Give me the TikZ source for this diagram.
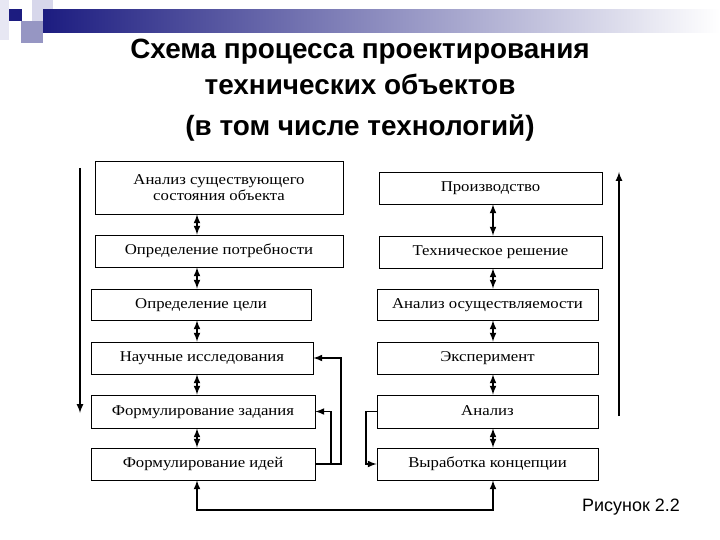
\documentclass[tikz,border=0pt]{standalone}
\usepackage{fontspec}
\setmainfont{Liberation Serif}
\newfontfamily\headfont{Liberation Sans}
\newfontfamily\stageserif{Liberation Serif}[FakeStretch=1.12]
\usetikzlibrary{shapes,arrows}
\definecolor{hdrblue}{RGB}{28,28,128}
\definecolor{hdrmid}{RGB}{150,150,195}
\definecolor{hdrlight}{RGB}{215,215,235}
\newcommand{\stagefont}{\stageserif\fontsize{15}{16}\selectfont}
\tikzset{
  stagebox/.style = {draw, line width=0.8pt, inner sep=0pt, align=center, font=\stagefont,
                     text height=10bp, text depth=3bp},
  twoway/.style = {latex-latex, line width=2pt},
  oneway/.style = {-latex, line width=2pt},
}

\begin{document}
\begin{tikzpicture}[x=1bp,y=-1bp]
	\useasboundingbox (0,0) rectangle (720,540);
	% slide decoration
	\fill[hdrlight!60] (0,0) rectangle (9,40);
	\fill[hdrlight] (32,0) rectangle (53,22);
	\fill[hdrmid] (21,21) rectangle (43,43);
	\shade[left color=hdrblue, middle color=hdrmid, right color=white] (43,10) rectangle (720,33);
	\fill[hdrblue] (9,9) rectangle (22,21);
	% title
	\node[font=\headfont\bfseries\fontsize{28}{32}\selectfont] (head1) at (360,52) {Схема процесса проектирования};
	\node[font=\headfont\bfseries\fontsize{28}{32}\selectfont] (head2) at (360,84) {технических объектов};
	\node[font=\headfont\bfseries\fontsize{28}{32}\selectfont] (head3) at (360,128) {(в том числе технологий)};
	\node[font=\headfont\fontsize{18}{20}\selectfont] (fig) at (631,507) {Рисунок 2.2};
	% left column
	\node[stagebox, text height=, text depth=, minimum width=248bp, minimum height=53bp] (L1) at (219,187.5) {Анализ существующего\\состояния объекта};
	\node[stagebox, minimum width=248bp, minimum height=32bp] (L2) at (219,251) {Определение потребности};
	\node[stagebox, minimum width=220bp, minimum height=31bp] (L3) at (201,304.5) {Определение цели};
	\node[stagebox, minimum width=222bp, minimum height=32bp] (L4) at (202,358) {Научные исследования};
	\node[stagebox, minimum width=224bp, minimum height=33bp] (L5) at (203,411.5) {Формулирование задания};
	\node[stagebox, minimum width=224bp, minimum height=32bp] (L6) at (203,464) {Формулирование идей};
	% right column
	\node[stagebox, minimum width=223bp, minimum height=32bp] (R1) at (490.5,188) {Производство};
	\node[stagebox, minimum width=223bp, minimum height=32bp] (R2) at (490.5,252) {Техническое решение};
	\node[stagebox, minimum width=221bp, minimum height=31bp] (R3) at (487.5,304.5) {Анализ осуществляемости};
	\node[stagebox, minimum width=221bp, minimum height=32bp] (R4) at (487.5,358) {Эксперимент};
	\node[stagebox, minimum width=221bp, minimum height=33bp] (R5) at (487.5,411.5) {Анализ};
	\node[stagebox, minimum width=221bp, minimum height=32bp] (R6) at (487.5,464) {Выработка концепции};
	\coordinate (lcol) at (197,0);
	\coordinate (rcol) at (493,0);
	% links inside the columns
	\draw[twoway] (L1.south -| lcol) -- (L2.north -| lcol);
	\draw[twoway] (L2.south -| lcol) -- (L3.north -| lcol);
	\draw[twoway] (L3.south -| lcol) -- (L4.north -| lcol);
	\draw[twoway] (L4.south -| lcol) -- (L5.north -| lcol);
	\draw[twoway] (L5.south -| lcol) -- (L6.north -| lcol);
	\draw[twoway] (R1.south -| rcol) -- (R2.north -| rcol);
	\draw[twoway] (R2.south -| rcol) -- (R3.north -| rcol);
	\draw[twoway] (R3.south -| rcol) -- (R4.north -| rcol);
	\draw[twoway] (R4.south -| rcol) -- (R5.north -| rcol);
	\draw[twoway] (R5.south -| rcol) -- (R6.north -| rcol);
	% long arrows at the sides
	\coordinate (ltop) at (80,168);
	\coordinate (lbot) at (80,413);
	\coordinate (rbot) at (619,416);
	\coordinate (rtop) at (619,172);
	\draw[oneway] (ltop) -- (lbot);
	\draw[oneway] (rbot) -- (rtop);
	% feedback loops
	\draw[oneway] (L6.east) -- ++(26,0) |- (L4.east);
	\draw[oneway] (L6.east) -- ++(16,0) |- (L5.east);
	\draw[oneway] (R5.west) -- ++(-11,0) |- (R6.west);
	\draw[twoway] (L6.south -| lcol) -- ++(0,30) -| (R6.south -| rcol);
\end{tikzpicture}
\end{document}
